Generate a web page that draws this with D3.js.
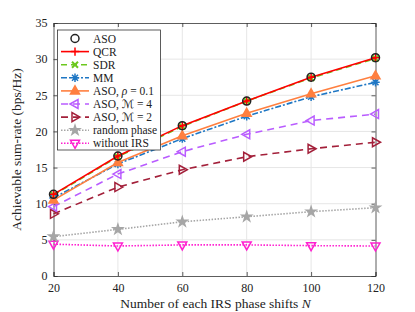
<!DOCTYPE html>
<html>
<head>
<meta charset="utf-8">
<script src="https://cdn.jsdelivr.net/npm/d3@7"></script>
<style>
  body { margin: 0; background: #fff; }
  svg { font-family: "Liberation Serif", "DejaVu Serif", serif; }
</style>
</head>
<body>
<svg id="chart" width="415" height="312"></svg>
<script>
// x values
const phaseShifts = [20, 40, 60, 80, 100, 120];
const xTicks = [20, 40, 60, 80, 100, 120];
const yTicks = [0, 5, 10, 15, 20, 25, 30, 35];

// sum-rate per scheme
const asoVals = [11.3, 16.6, 20.8, 24.2, 27.5, 30.2];
const qcrVals = [11.3, 16.6, 20.8, 24.2, 27.5, 30.2];
const sdrVals = [11.2, 16.5, 20.7, 24.2, 27.4, 30.1];
const mmVals = [10.8, 15.5, 19.0, 22.1, 24.8, 26.8];
const rhoVals = [10.5, 15.7, 19.4, 22.5, 25.2, 27.7];
const m4Vals = [9.6, 14.1, 17.2, 19.6, 21.5, 22.4];
const m2Vals = [8.6, 12.3, 14.7, 16.5, 17.6, 18.5];
const randVals = [5.45, 6.45, 7.5, 8.2, 8.9, 9.45];
const noIrsVals = [4.4, 4.15, 4.3, 4.3, 4.2, 4.15];

const series = [
  { name: "ASO", vals: asoVals, color: "#222", dash: null, line: false, marker: "circle" },
  { name: "QCR", vals: qcrVals, color: "#ff0000", dash: null, line: true, marker: "plus" },
  { name: "SDR", vals: sdrVals, color: "#6cc81e", dash: "6,4", line: true, marker: "cross" },
  { name: "MM", vals: mmVals, color: "#1f77c4", dash: "6,2,2,2", line: true, marker: "asterisk" },
  { name: "rho", vals: rhoVals, color: "#ff7f3f", dash: null, line: true, marker: "triUp" },
  { name: "m4", vals: m4Vals, color: "#b95cff", dash: "7,5", line: true, marker: "triLeft" },
  { name: "m2", vals: m2Vals, color: "#a3203a", dash: "7,5", line: true, marker: "triRight" },
  { name: "random phase", vals: randVals, color: "#a6a6a6", dash: "1.5,1.5", line: true, marker: "star" },
  { name: "without IRS", vals: noIrsVals, color: "#ff1fd0", dash: "1.5,1.5", line: true, marker: "triDown" }
];

const svg = d3.select("#chart");
const mLeft = 53.5, mRight = 375.5, mTop = 23, mBottom = 276;

const x = d3.scaleLinear().domain([20, 120]).range([mLeft, mRight]);
const y = d3.scaleLinear().domain([0, 35]).range([mBottom, mTop]);

// grid
const grid = svg.append("g");
grid.selectAll(".gx").data(xTicks.slice(1, -1)).enter().append("line")
  .attr("x1", d => x(d)).attr("x2", d => x(d))
  .attr("y1", mTop).attr("y2", mBottom)
  .attr("stroke", "#e6e6e6").attr("stroke-width", 1);
grid.selectAll(".gy").data(yTicks.slice(1, -1)).enter().append("line")
  .attr("x1", mLeft).attr("x2", mRight)
  .attr("y1", d => y(d)).attr("y2", d => y(d))
  .attr("stroke", "#e6e6e6").attr("stroke-width", 1);

// axes
svg.append("g").attr("transform", `translate(0,${mBottom})`)
  .call(d3.axisBottom(x).tickValues(xTicks).tickSize(-4).tickPadding(7));
svg.append("g").attr("transform", `translate(${mLeft},0)`)
  .call(d3.axisLeft(y).tickValues(yTicks).tickSize(-4).tickPadding(6));
svg.append("g").attr("transform", `translate(0,${mTop})`)
  .call(d3.axisTop(x).tickValues(xTicks).tickSize(-4).tickFormat(""));
svg.append("g").attr("transform", `translate(${mRight},0)`)
  .call(d3.axisRight(y).tickValues(yTicks).tickSize(-4).tickFormat(""));
svg.selectAll(".domain").attr("stroke", "#333").attr("stroke-width", 0.8);
svg.selectAll(".tick line").attr("stroke", "#333").attr("stroke-width", 0.8);
svg.selectAll(".tick text").attr("font-size", 12).attr("fill", "#222")
  .attr("font-family", "Liberation Serif, serif");

// marker drawing
function drawMarker(g, type, cx, cy, color) {
  const s = 4.2;
  if (type === "circle") {
    g.append("circle").attr("cx", cx).attr("cy", cy).attr("r", 4)
      .attr("fill", "none").attr("stroke", color).attr("stroke-width", 1.5);
  } else if (type === "plus") {
    g.append("path").attr("d", `M${cx - s},${cy}H${cx + s}M${cx},${cy - s}V${cy + s}`)
      .attr("stroke", color).attr("stroke-width", 1.5);
  } else if (type === "cross") {
    const c = 3;
    g.append("path").attr("d", `M${cx - c},${cy - c}L${cx + c},${cy + c}M${cx - c},${cy + c}L${cx + c},${cy - c}`)
      .attr("stroke", color).attr("stroke-width", 2);
  } else if (type === "asterisk") {
    const c = 3;
    g.append("path").attr("d", `M${cx - s},${cy}H${cx + s}M${cx},${cy - s}V${cy + s}M${cx - c},${cy - c}L${cx + c},${cy + c}M${cx - c},${cy + c}L${cx + c},${cy - c}`)
      .attr("stroke", color).attr("stroke-width", 1.5);
  } else if (type === "star") {
    g.append("path").attr("d", d3.symbol(d3.symbolStar, 60)())
      .attr("transform", `translate(${cx},${cy})`).attr("fill", color);
  } else {
    const r = 5;
    let pts;
    if (type === "triUp") pts = [[0, -r], [r * 0.9, r * 0.6], [-r * 0.9, r * 0.6]];
    if (type === "triDown") pts = [[0, r], [r * 0.9, -r * 0.6], [-r * 0.9, -r * 0.6]];
    if (type === "triLeft") pts = [[-r, 0], [r * 0.6, -r * 0.9], [r * 0.6, r * 0.9]];
    if (type === "triRight") pts = [[r, 0], [-r * 0.6, -r * 0.9], [-r * 0.6, r * 0.9]];
    const filled = type === "triUp";
    g.append("path")
      .attr("d", "M" + pts.map(p => [cx + p[0], cy + p[1]].join(",")).join("L") + "Z")
      .attr("fill", filled ? color : "none").attr("stroke", color).attr("stroke-width", 1.5);
  }
}

const lineGen = d3.line().x((d, i) => x(phaseShifts[i])).y(d => y(d));

// draw from back to front
const order = [8, 7, 6, 5, 2, 3, 4, 1, 0];
order.forEach(idx => {
  const s = series[idx];
  const g = svg.append("g");
  if (s.line) {
    g.append("path").datum(s.vals).attr("d", lineGen)
      .attr("fill", "none").attr("stroke", s.color).attr("stroke-width", 1.6)
      .attr("stroke-dasharray", s.dash);
  }
  s.vals.forEach((v, i) => drawMarker(g, s.marker, x(phaseShifts[i]), y(v), s.color));
});

// legend
const lg = svg.append("g");
lg.append("rect").attr("x", 57.5).attr("y", 30).attr("width", 103).attr("height", 120)
  .attr("fill", "#fff").attr("stroke", "#333").attr("stroke-width", 0.8);
const labels = [
  ["ASO"], ["QCR"], ["SDR"], ["MM"],
  ["ASO, ", ["ρ", "italic"], " = 0.1"],
  ["ASO, ", ["ℳ", "script"], " = 4"],
  ["ASO, ", ["ℳ", "script"], " = 2"],
  ["random phase"], ["without IRS"]
];
series.forEach((s, i) => {
  const ly = 38.5 + i * 13.1;
  if (s.line) {
    lg.append("line").attr("x1", 61).attr("x2", 89).attr("y1", ly).attr("y2", ly)
      .attr("stroke", s.color).attr("stroke-width", 1.6).attr("stroke-dasharray", s.dash);
  }
  drawMarker(lg, s.marker, 75, ly, s.color);
  const t = lg.append("text").attr("x", 93).attr("y", ly + 4).attr("font-size", 11.5).attr("fill", "#222");
  labels[i].forEach(part => {
    if (typeof part === "string") t.append("tspan").text(part);
    else if (part[1] === "italic") t.append("tspan").text(part[0]).attr("font-style", "italic");
    else t.append("tspan").text(part[0]).attr("font-family", "DejaVu Sans, sans-serif");
  });
});

// axis titles
svg.append("text").attr("transform", `translate(21,${(mTop + mBottom) / 2}) rotate(-90)`)
  .attr("text-anchor", "middle").attr("font-size", 13.5).attr("fill", "#222")
  .text("Achievable sum-rate (bps/Hz)");
const xl = svg.append("text").attr("x", (mLeft + mRight) / 2 + 1).attr("y", 307.5)
  .attr("text-anchor", "middle").attr("font-size", 13.5).attr("fill", "#222");
xl.append("tspan").text("Number of each IRS phase shifts ");
xl.append("tspan").text("N").attr("font-style", "italic");
</script>
</body>
</html>
